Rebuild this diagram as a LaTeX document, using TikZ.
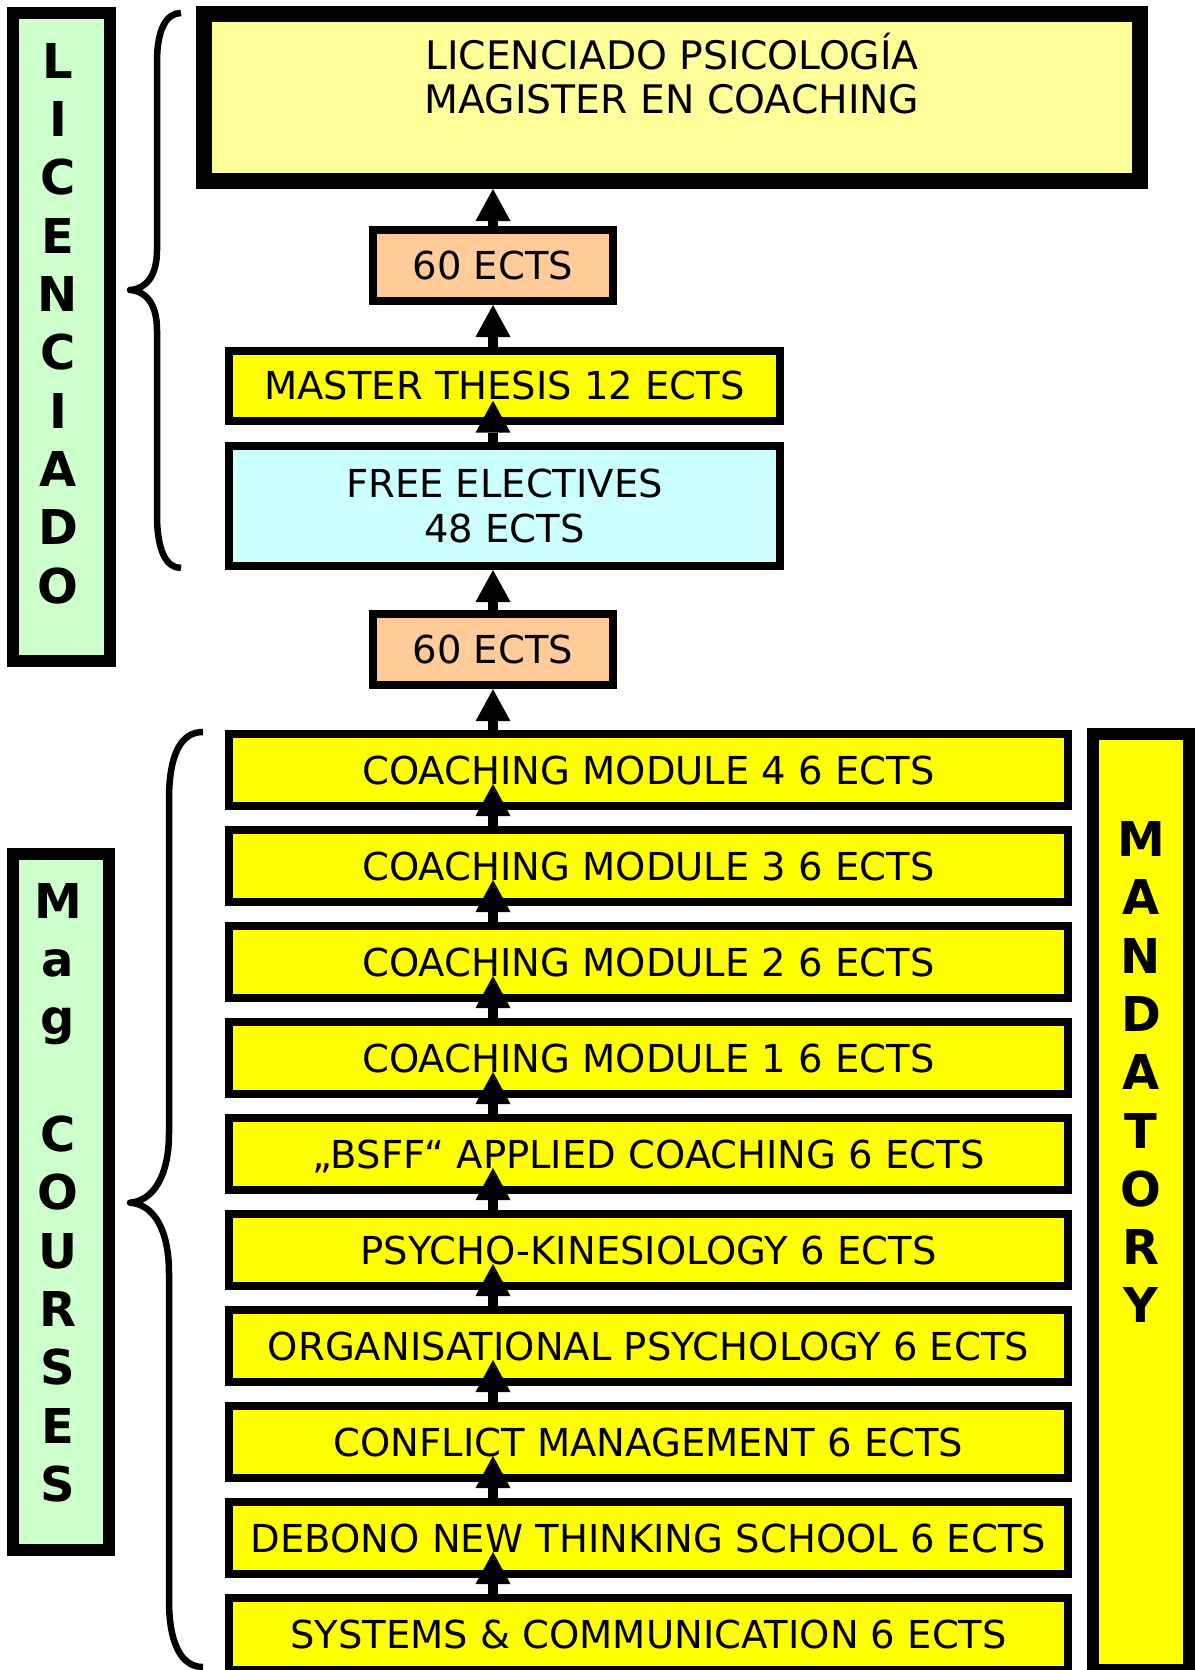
\documentclass[tikz,border=0pt]{standalone}
\usepackage{fontspec}
\setmainfont{DejaVu Sans}
\usetikzlibrary{arrows.meta,calc}
\definecolor{grn}{RGB}{204,255,204}
\definecolor{ltyel}{RGB}{255,255,153}
\definecolor{peach}{RGB}{255,204,153}
\definecolor{yel}{RGB}{255,255,0}
\definecolor{cyn}{RGB}{204,255,255}
\tikzset{
  txtfont/.style={font=\fontsize{38.5}{45.6}\selectfont},
  boxbase/.style={draw=black, inner sep=0pt, txtfont},
  onel/.style={text height=28pt, text depth=0pt},
  modbox/.style={boxbase, onel, fill=yel, line width=8pt, minimum width=839pt, minimum height=72pt},
  ectsbox/.style={boxbase, onel, fill=peach, line width=8pt, minimum width=239.7pt, minimum height=71pt},
  mtbox/.style={boxbase, onel, fill=yel, line width=8pt, minimum width=551pt, minimum height=70.3pt},
  febox/.style={boxbase, align=center, fill=cyn, line width=8pt, minimum width=551pt, minimum height=120.3pt},
  topbox/.style={boxbase, fill=ltyel, line width=16pt, minimum width=936pt, minimum height=167pt},
  toptxt/.style={font=\fontsize{39.3}{45.6}\selectfont, inner sep=0pt, anchor=base},
  grnbox/.style={draw=black, fill=grn, line width=12pt, inner sep=0pt},
  mandbox/.style={draw=black, fill=yel, line width=12pt, inner sep=0pt},
  vlet/.style={font=\fontsize{48}{58.3}\bfseries\selectfont, inner sep=0pt, anchor=base},
  arr/.style={line width=10pt, -{Triangle[length=32pt,width=35pt,line width=0pt]}},
  brace/.style={line width=6.5pt, line join=round}
}
\begin{document}
\begin{tikzpicture}[x=1pt,y=-1pt]
\useasboundingbox (0,0) rectangle (1196,1670);
\fill[white] (0,0) rectangle (1196,1670);
\clip (0,0) rectangle (1196,1670);
\coordinate (ax) at (493,0);

% left labels
\node[grnbox, minimum width=96.4pt, minimum height=648pt] (lic) at (61.5,337.3) {};
\foreach \c [count=\i from 0] in {L,I,C,E,N,C,I,A,D,O}
  \node[vlet] (lic\i) at (58,{78.3+58.3*\i}) {\c};
\node[grnbox, minimum width=95.7pt, minimum height=695.7pt] (mag) at (61.2,1202.2) {};
\foreach \c/\k in {M/0,a/1,g/2,C/4,O/5,U/6,R/7,S/8,E/9,S/10}
  \node[vlet] (mag\k) at (58,{918.3+58.3*\k}) {\c};

% mandatory
\node[mandbox, minimum width=96.3pt, minimum height=935.7pt] (mand) at (1141.2,1202.15) {};
\foreach \c [count=\i from 0] in {M,A,N,D,A,T,O,R,Y}
  \node[vlet] (mand\i) at (1141,{856.5+58.3*\i}) {\c};

% braces
\draw[brace] (181,13) .. controls (166,13) and (157,30) .. (157,62) -- (157,250)
  .. controls (157,276) and (146,289) .. (130,290)
  .. controls (146,291) and (157,304) .. (157,330) -- (157,515)
  .. controls (157,550) and (166,568) .. (181,568);
\draw[brace] (203,732) .. controls (182,732) and (169,752) .. (169,800) -- (169,1133)
  .. controls (169,1178) and (152,1201) .. (130,1202.7)
  .. controls (152,1204) and (169,1227) .. (169,1273) -- (169,1600)
  .. controls (169,1645) and (182,1667) .. (203,1667);

% upper column
\node[topbox] (top) at (672,97.5) {};
\node[toptxt] (tl1) at (672,70) {LICENCIADO PSICOLOGÍA};
\node[toptxt] (tl2) at (672,113.3) {MAGISTER EN COACHING};
\node[ectsbox] (e1) at (492.85,265.5) {60 ECTS};
\node[mtbox] (mt) at (504.5,385.85) {MASTER THESIS 12 ECTS};
\node[febox] (fe) at (504.5,505.85) {FREE ELECTIVES\\48 ECTS};
\node[ectsbox] (e2) at (492.85,649.7) {60 ECTS};

% modules
\foreach \t [count=\i] in {COACHING MODULE 4 6 ECTS,
  COACHING MODULE 3 6 ECTS,
  COACHING MODULE 2 6 ECTS,
  COACHING MODULE 1 6 ECTS,
  „BSFF“ APPLIED COACHING 6 ECTS,
  PSYCHO-KINESIOLOGY 6 ECTS,
  ORGANISATIONAL PSYCHOLOGY 6 ECTS,
  CONFLICT MANAGEMENT 6 ECTS,
  DEBONO NEW THINKING SCHOOL 6 ECTS,
  SYSTEMS \& COMMUNICATION 6 ECTS}
  \node[modbox] (m\i) at (648.5,{770+96*(\i-1)}) {\t};

% arrows
\draw[arr] (e1.north -| ax) -- (top.south -| ax);
\draw[arr] (mt.north -| ax) -- (e1.south -| ax);
\draw[arr, shorten >=-24.3pt] (fe.north -| ax) -- (mt.south -| ax);
\draw[arr] (e2.north -| ax) -- (fe.south -| ax);
\draw[arr] (m1.north -| ax) -- (e2.south -| ax);
\foreach \i [evaluate=\i as \j using int(\i+1)] in {1,...,9}
  \draw[arr, shorten >=-26pt] (m\j.north -| ax) -- (m\i.south -| ax);
\end{tikzpicture}
\end{document}
